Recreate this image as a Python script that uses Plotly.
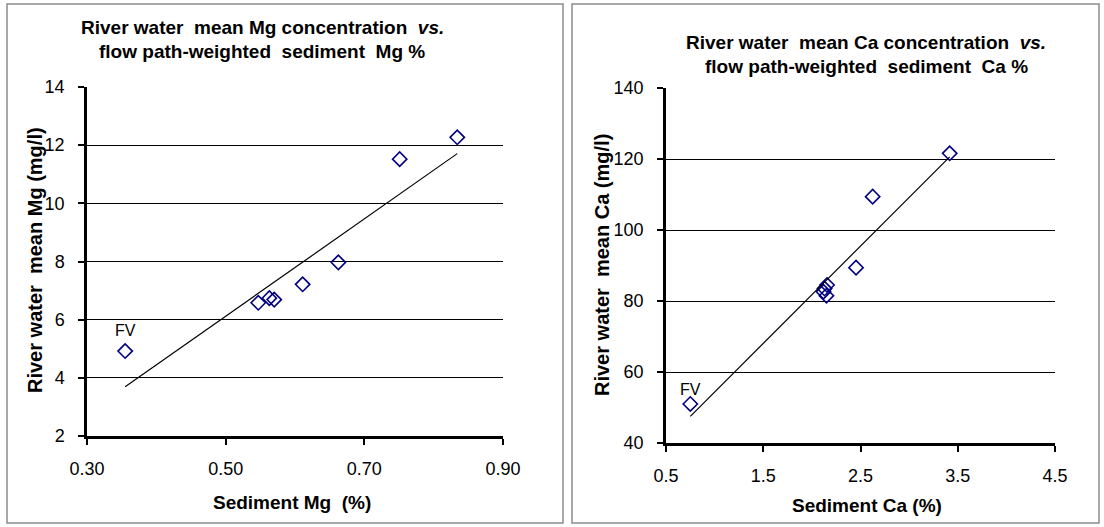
import numpy as np
import plotly.graph_objects as go

# ---- Data ----
mg_sed = [0.355, 0.547, 0.563, 0.570, 0.611, 0.6625, 0.751, 0.834]
mg_water = [4.92, 6.58, 6.74, 6.69, 7.215, 7.97, 11.52, 12.27]
ca_sed = [0.75, 2.12, 2.13, 2.15, 2.156, 2.454, 2.625, 3.417]
ca_water = [51.0, 82.6, 83.5, 81.5, 84.5, 89.4, 109.4, 121.6]
fv_label = "FV"

mg_xticks = [0.30, 0.50, 0.70, 0.90]
mg_yticks = [2, 4, 6, 8, 10, 12, 14]
ca_xticks = [0.5, 1.5, 2.5, 3.5, 4.5]
ca_yticks = [40, 60, 80, 100, 120, 140]

W, H = 1104, 527
FONT = "Liberation Sans, Arial, sans-serif"
NAVY = "#000080"


def px(x):
    return x / W


def py(y):
    return 1 - y / H


def trend(xs, ys):
    k, b = np.polyfit(xs, ys, 1)
    x0, x1 = min(xs), max(xs)
    return [x0, x1], [k * x0 + b, k * x1 + b]


fig = go.Figure()

marker = dict(symbol="diamond-open", size=11, color=NAVY, line=dict(width=1.6, color=NAVY))

# Mg panel
fig.add_trace(go.Scatter(x=mg_sed, y=mg_water, mode="markers", marker=marker,
                         xaxis="x", yaxis="y", showlegend=False))
tx, ty = trend(mg_sed, mg_water)
fig.add_trace(go.Scatter(x=tx, y=ty, mode="lines", line=dict(color="black", width=1.2),
                         xaxis="x", yaxis="y", showlegend=False))

# Ca panel
fig.add_trace(go.Scatter(x=ca_sed, y=ca_water, mode="markers", marker=marker,
                         xaxis="x2", yaxis="y2", showlegend=False))
tx2, ty2 = trend(ca_sed, ca_water)
fig.add_trace(go.Scatter(x=tx2, y=ty2, mode="lines", line=dict(color="black", width=1.2),
                         xaxis="x2", yaxis="y2", showlegend=False))

tickfont = dict(family=FONT, size=18, color="black")


def xaxis(domain, rng, ticks, fmt, anchor):
    return dict(domain=domain, range=rng, tickvals=ticks,
                ticktext=[fmt.format(t) for t in ticks],
                showgrid=False, zeroline=False, showline=True, linecolor="black", linewidth=2.5,
                ticks="outside", ticklen=6, tickwidth=1.5, tickcolor="black",
                tickfont=tickfont, anchor=anchor, ticklabelstandoff=9, automargin=False)


def yaxis(domain, rng, ticks, anchor):
    return dict(domain=domain, range=rng, tickvals=ticks,
                showgrid=True, gridcolor="black", gridwidth=1.2, zeroline=False,
                showline=True, linecolor="black", linewidth=2.5,
                ticks="outside", ticklen=6, tickwidth=1.5, tickcolor="black",
                tickfont=tickfont, anchor=anchor, ticklabelstandoff=10, automargin=False)


fig.update_layout(
    template="none",
    width=W, height=H,
    margin=dict(l=0, r=0, t=0, b=0, pad=0),
    paper_bgcolor="white", plot_bgcolor="white",
    xaxis=xaxis([px(87), px(503)], [0.30, 0.90], mg_xticks, "{:.2f}", "y"),
    yaxis=yaxis([py(436), py(87)], [2, 14], mg_yticks, "x"),
    xaxis2=xaxis([px(666), px(1055)], [0.5, 4.5], ca_xticks, "{:.1f}", "y2"),
    yaxis2=yaxis([py(443), py(88)], [40, 140], ca_yticks, "x2"),
)

# chart frames
for x0, x1 in [(7, 563), (572, 1099)]:
    fig.add_shape(type="rect", xref="paper", yref="paper",
                  x0=px(x0), x1=px(x1), y0=py(523), y1=py(4),
                  line=dict(color="#8c8c8c", width=1.5), fillcolor="rgba(0,0,0,0)", layer="below")

bold = dict(family=FONT, size=19, color="black")
ybold = dict(family=FONT, size=20, color="black")
anns = [
    dict(text="<b>River water  mean Mg concentration  <i>vs.</i></b>", x=px(262), y=py(28), font=bold),
    dict(text="<b>flow path-weighted  sediment  Mg %</b>", x=px(262), y=py(52), font=bold),
    dict(text="<b>River water  mean Ca concentration  <i>vs.</i></b>", x=px(866), y=py(43), font=bold),
    dict(text="<b>flow path-weighted  sediment  Ca %</b>", x=px(866), y=py(66), font=bold),
    dict(text="<b>Sediment Mg  (%)</b>", x=px(292), y=py(502), font=bold),
    dict(text="<b>Sediment Ca (%)</b>", x=px(867), y=py(505), font=bold),
    dict(text="<b>River water  mean Mg (mg/l)</b>", x=px(35), y=py(260), textangle=-90, font=ybold),
    dict(text="<b>River water  mean Ca (mg/l)</b>", x=px(602), y=py(265), textangle=-90, font=ybold),
]
for a in anns:
    fig.add_annotation(xref="paper", yref="paper", showarrow=False,
                       xanchor="center", yanchor="middle", **a)

# FV labels attached to data points
fig.add_annotation(x=mg_sed[0], y=mg_water[0], xref="x", yref="y", text=fv_label,
                   showarrow=False, yshift=21, font=dict(family=FONT, size=16, color="black"))
fig.add_annotation(x=ca_sed[0], y=ca_water[0], xref="x2", yref="y2", text=fv_label,
                   showarrow=False, yshift=14, font=dict(family=FONT, size=16, color="black"))

fig.write_html("out.html")
